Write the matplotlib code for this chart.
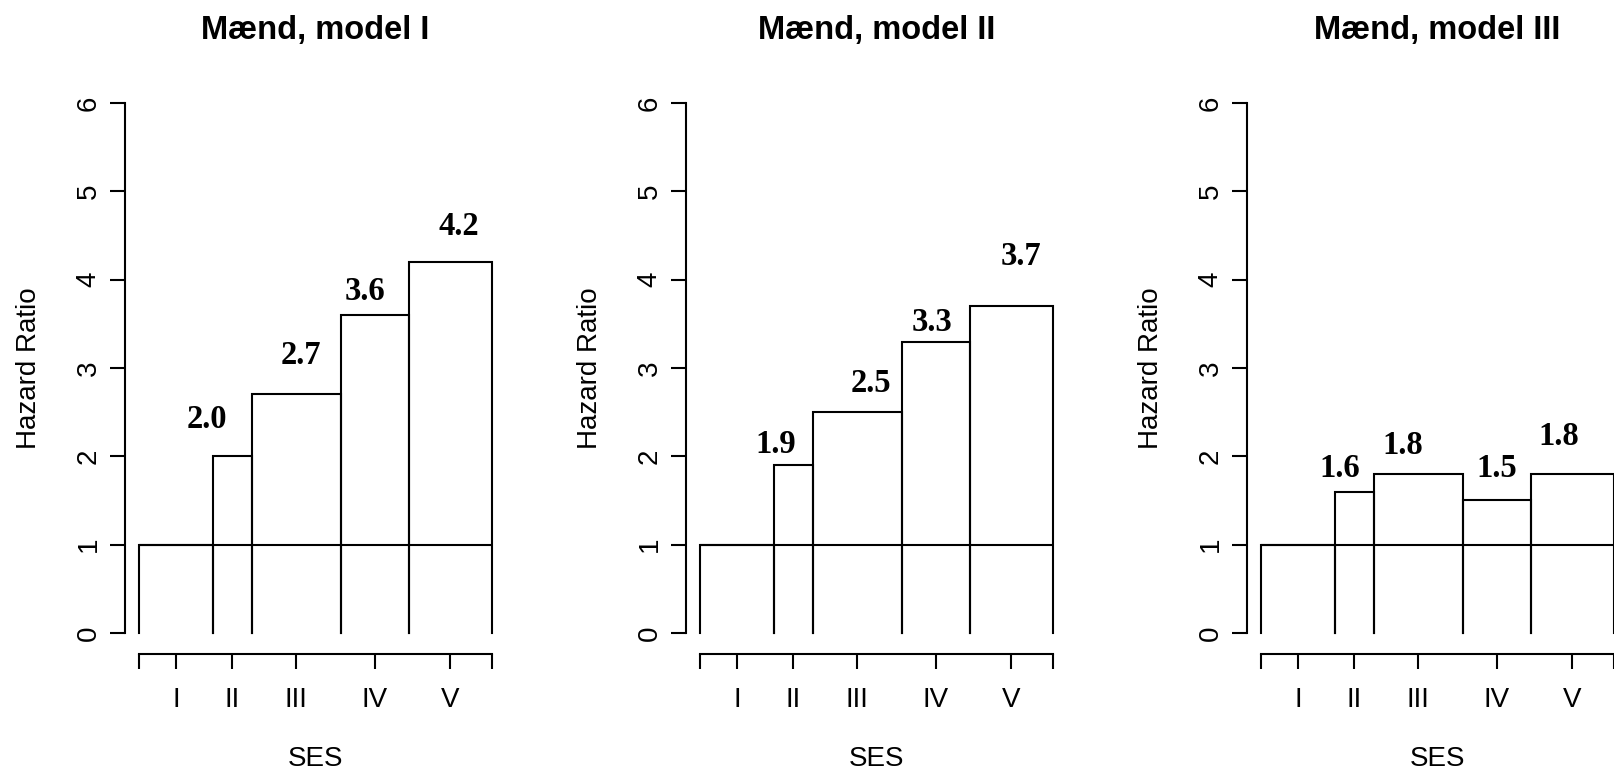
import matplotlib.pyplot as plt
import numpy as np

plt.rcParams["font.family"] = ["Liberation Sans", "DejaVu Sans"]

ses = ["I", "II", "III", "IV", "V"]
widths = [20.9, 11.1, 25.1, 19.4, 23.5]  # bar widths (share of each SES group)
titles = ["Mænd, model I", "Mænd, model II", "Mænd, model III"]
hr_model1 = [1.0, 2.0, 2.7, 3.6, 4.2]
hr_model2 = [1.0, 1.9, 2.5, 3.3, 3.7]
hr_model3 = [1.0, 1.6, 1.8, 1.5, 1.8]
models = [hr_model1, hr_model2, hr_model3]

# value labels were placed by hand: shift from bar centre (x) and from bar top (y)
label_dx = [[-7.1, 1.4, -2.7, 2.4], [-5.1, 4.0, -1.0, 2.7], [-4.2, -4.5, -0.1, -3.8]]
label_dy = [[0.42, 0.44, 0.27, 0.40], [0.23, 0.33, 0.21, 0.56], [0.26, 0.32, 0.36, 0.42]]

W, H = 1615, 770
fig = plt.figure(figsize=(W / 100, H / 100), dpi=100)

edges = np.concatenate([[0], np.cumsum(widths)])
mids = (edges[:-1] + edges[1:]) / 2
lefts = [125, 686, 1247]
lw = 1.5

for i in range(3):
    hr = models[i]
    ax = fig.add_axes([lefts[i] / W, 116 / H, 381 / W, 572 / H])
    for j in range(len(hr)):
        x0, x1 = edges[j], edges[j + 1]
        ax.plot([x0, x0, x1, x1], [0, hr[j], hr[j], 0], color="black", lw=lw,
                solid_joinstyle="miter", clip_on=False)
    ax.hlines(1, edges[0], edges[-1], color="black", lw=lw)
    for j in range(1, len(hr)):
        ax.text(mids[j] + label_dx[i][j - 1], hr[j] + label_dy[i][j - 1], f"{hr[j]:.1f}",
                ha="center", va="center", family=["Liberation Serif", "DejaVu Serif"],
                fontweight="bold", fontsize=23.5)

    span = edges[-1] - edges[0]
    ax.set_xlim(edges[0] - 0.04 * span, edges[-1] + 0.04 * span)
    ax.set_ylim(-0.24, 6.24)
    for s in ["top", "right"]:
        ax.spines[s].set_visible(False)
    ax.spines["left"].set_bounds(0, 6)
    ax.spines["bottom"].set_bounds(edges[0], edges[-1])
    for s in ["left", "bottom"]:
        ax.spines[s].set_linewidth(lw)

    ax.set_xticks(np.concatenate([[edges[0]], mids, [edges[-1]]]))
    ax.set_xticklabels([""] + ses + [""])
    ax.set_yticks(range(0, 7))
    ax.set_yticklabels([str(v) for v in range(0, 7)], rotation=90, va="center")
    ax.tick_params(axis="x", length=10.8, width=lw, pad=13, labelsize=20)
    ax.tick_params(axis="y", length=10.8, width=lw, pad=6, labelsize=20)

    ax.set_xlabel("SES", fontsize=20, labelpad=24)
    ax.set_ylabel("Hazard Ratio", fontsize=20, labelpad=24)
    ax.set_title(titles[i], fontsize=23.5, fontweight="bold", pad=31)

fig.savefig("out.png", dpi=100)
